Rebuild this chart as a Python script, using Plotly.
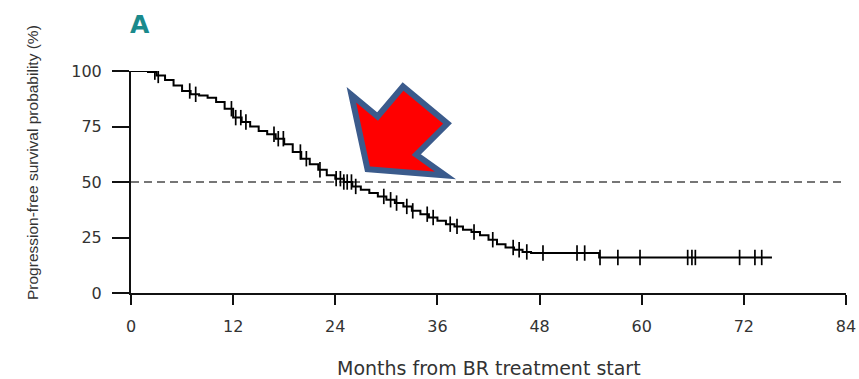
import numpy as np
import plotly.graph_objects as go

# ---------------- data ----------------
months = [0, 1, 2, 3, 4, 5, 6, 7, 8, 9, 10, 11, 12, 13, 14, 15, 16, 17, 18, 19,
          20, 21, 22, 23, 24, 25, 26, 27, 28, 29, 30, 31, 32, 33, 34, 35, 36, 37,
          38, 39, 40, 41, 42, 43, 44, 45, 46, 47, 55, 75.3]
pfs = [100, 100, 99.5, 98, 96, 93.5, 91, 89.5, 89, 88, 86, 83, 79, 77, 75, 73,
       71.5, 69.5, 67, 63.5, 60.5, 58, 55.5, 53, 51.5, 50, 48, 46.5, 45, 43.5,
       42, 40.5, 39, 37, 35.5, 34, 32.5, 31, 30, 28.5, 27.5, 26, 24, 22, 20.5,
       19.5, 18.5, 18, 16, 16]
censor_months = [2.8, 3.2, 6.9, 7.6, 11.8, 12.3, 12.9, 13.5, 16.8, 17.3, 17.9,
                 19.9, 20.6, 22.2, 24.1, 24.6, 25.0, 25.4, 25.9, 26.4, 29.7, 30.5,
                 31.2, 32.4, 33.1, 34.8, 35.5, 37.5, 38.3, 40.3, 42.5, 44.9, 45.6,
                 46.5, 48.4, 52.4, 53.3, 55.1, 57.2, 59.8, 65.4, 65.9, 66.3, 71.5,
                 73.3, 74.1]
x_ticks = [0, 12, 24, 36, 48, 60, 72, 84]
y_ticks = [0, 25, 50, 75, 100]
median_level = 50
x_title = "Months from BR treatment start"
y_title = "Progression-free survival probability (%)"
panel_label = "A"

# ---------------- layout geometry / styles ----------------
W, H = 859, 379
# plot area in pixels: x 131..846, y 71..293
ML, MT = 131, 71
MR, MB = W - 846, H - 293
PW, PH = W - ML - MR, H - MT - MB


def px2paper(px, py):
    """pixel -> paper coordinates"""
    return (px - ML) / PW, (H - MB - py) / PH


# censor marks sit on the step curve
idx = np.searchsorted(np.array(months), np.array(censor_months), side="right") - 1
censor_pfs = np.array(pfs)[idx]

fig = go.Figure()
fig.add_trace(go.Scatter(
    x=months, y=pfs, mode="lines", line=dict(color="black", width=2, shape="hv"),
    showlegend=False, hoverinfo="skip"))
fig.add_trace(go.Scatter(
    x=censor_months, y=censor_pfs, mode="markers",
    marker=dict(symbol="line-ns", size=11, line=dict(color="black", width=1.7)),
    showlegend=False, hoverinfo="skip"))

fig.add_shape(type="line", xref="x", yref="y", x0=x_ticks[0], x1=x_ticks[-1],
              y0=median_level, y1=median_level,
              line=dict(color="#4a4a4a", width=1.6, dash="8px,5px"), layer="below")

# decorative block arrow (pixel geometry of the call-out)
arrow_px = [(351.4, 94.8), (377.6, 116.5), (403, 86.5), (447.5, 123.5),
            (416.3, 154.6), (445.5, 175.5), (367.5, 169.3)]
pts = [px2paper(a, b) for a, b in arrow_px]
path = "M " + " L ".join(f"{u:.5f},{v:.5f}" for u, v in pts) + " Z"
fig.add_shape(type="path", xref="paper", yref="paper", path=path,
              fillcolor="#ff0000", line=dict(color="#3b5b8c", width=6), layer="above")

ann = []
lx, ly = px2paper(140, 25)
ann.append(dict(text=panel_label, x=lx, y=ly, xref="paper", yref="paper",
                showarrow=False, xanchor="center", yanchor="middle",
                font=dict(family="DejaVu Sans", size=25, color="#1a8a8c", weight="bold")))
tx, ty = px2paper(489, 368)
ann.append(dict(text=x_title, x=tx, y=ty, xref="paper", yref="paper",
                showarrow=False, xanchor="center", yanchor="middle",
                font=dict(family="DejaVu Sans", size=19, color="#333333")))
yx, yy = px2paper(32, 163)
ann.append(dict(text=y_title, x=yx, y=yy, xref="paper", yref="paper", textangle=-90,
                showarrow=False, xanchor="center", yanchor="middle",
                font=dict(family="Liberation Sans", size=15.5, color="#333333")))

fig.update_layout(
    width=W, height=H, margin=dict(l=ML, r=MR, t=MT, b=MB, autoexpand=False),
    paper_bgcolor="white", plot_bgcolor="white", annotations=ann,
    xaxis=dict(range=[0, 84], tickvals=x_ticks, ticktext=[str(v) for v in x_ticks],
               showgrid=False, zeroline=False, showline=True, linecolor="#111111",
               linewidth=2, ticks="outside", ticklen=10, tickwidth=2, tickcolor="#111111",
               ticklabelstandoff=8,
               tickfont=dict(family="DejaVu Sans", size=16, color="#333333")),
    yaxis=dict(range=[0, 100], tickvals=y_ticks, ticktext=[str(v) for v in y_ticks],
               showgrid=False, zeroline=False, showline=True, linecolor="#111111",
               linewidth=2, ticks="outside", ticklen=17, tickwidth=2, tickcolor="#111111",
               ticklabelstandoff=7,
               tickfont=dict(family="DejaVu Sans", size=16, color="#333333")),
)

fig.write_html("out.html",
               config={"displayModeBar": False},
               post_script="document.body.style.margin='0';"
                           "document.body.style.overflow='hidden';")
